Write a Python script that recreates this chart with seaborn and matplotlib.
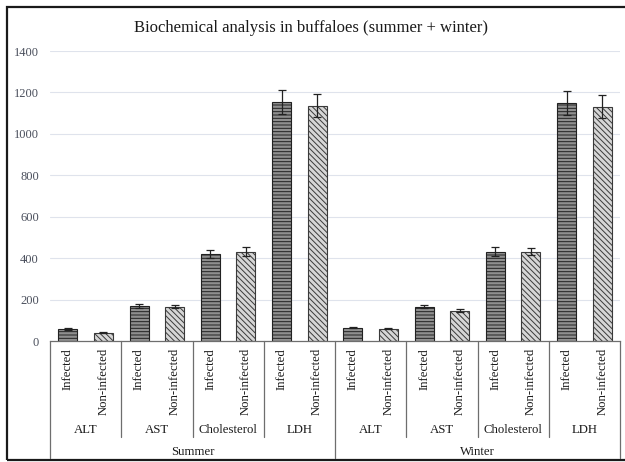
import numpy as np
import pandas as pd
import matplotlib
matplotlib.use("Agg")
import matplotlib.pyplot as plt
from matplotlib.transforms import blended_transform_factory
from matplotlib.patches import Rectangle
import seaborn as sns

# ---- data -------------------------------------------------------------
seasons = ["Summer", "Winter"]
parameters = ["ALT", "AST", "Cholesterol", "LDH"]
status = ["Infected", "Non-infected"]

summer_infected = [58, 168, 420, 1155]
summer_infected_err = [4, 10, 20, 57]
summer_noninfected = [40, 165, 432, 1136]
summer_noninfected_err = [2, 8, 20, 55]

winter_infected = [65, 166, 432, 1150]
winter_infected_err = [3, 8, 20, 58]
winter_noninfected = [60, 146, 432, 1132]
winter_noninfected_err = [3, 8, 18, 55]

# ---- long table, one row per bar ---------------------------------------
rows = []
season_sets = {
    "Summer": (summer_infected, summer_infected_err, summer_noninfected, summer_noninfected_err),
    "Winter": (winter_infected, winter_infected_err, winter_noninfected, winter_noninfected_err),
}
for s in seasons:
    inf, inf_e, non, non_e = season_sets[s]
    for i, p in enumerate(parameters):
        rows.append((s, p, "Infected", inf[i], inf_e[i]))
        rows.append((s, p, "Non-infected", non[i], non_e[i]))
df = pd.DataFrame(rows, columns=["season", "parameter", "status", "value", "err"])
df["slot"] = [f"{r.season}-{r.parameter}-{r.status}" for r in df.itertuples()]
df["pos"] = np.arange(len(df))

sns.set_theme(style="white")
plt.rcParams["font.family"] = ["Liberation Serif", "DejaVu Serif"]
plt.rcParams["hatch.linewidth"] = 0.7

fig = plt.figure(figsize=(6.25, 4.62), dpi=100)
ax = fig.add_axes([0.08, 1 - 341 / 462, 0.912, 290 / 462])

sns.barplot(data=df, x="slot", y="value", hue="status", hue_order=status,
            order=list(df["slot"]), width=0.53, dodge=False, errorbar=None,
            legend=False, ax=ax)

styles = {
    "Infected": dict(fc="#8f8f8f", hatch="-----", ec="#222222"),
    "Non-infected": dict(fc="#d6d6d6", hatch="\\\\\\\\\\\\", ec="#3a3a3a"),
}
for patch in ax.patches:
    idx = int(round(patch.get_x() + patch.get_width() / 2))
    if idx < 0 or idx >= len(df) or patch.get_height() == 0:
        continue
    st = styles[df["status"].iloc[idx]]
    patch.set_facecolor(st["fc"])
    patch.set_edgecolor(st["ec"])
    patch.set_hatch(st["hatch"])
    patch.set_linewidth(0.8)

ax.errorbar(df["pos"], df["value"], yerr=df["err"], fmt="none",
            ecolor="#222222", elinewidth=0.9, capsize=3, capthick=0.9, zorder=5)

# ---- axes styling --------------------------------------------------------
ax.set_xlim(-0.5, len(df) - 0.5)
ax.set_ylim(0, 1400)
ax.set_yticks(np.arange(0, 1401, 200))
ax.set_yticklabels([str(v) for v in range(0, 1401, 200)], fontsize=9, color="#4a4f5c")
ax.tick_params(axis="y", length=0, pad=8)
ax.set_xticks([])
ax.set_xlabel("")
ax.set_ylabel("")
ax.grid(axis="y", color="#dfe3ec", linewidth=0.8)
ax.set_axisbelow(True)
for side in ["left", "right", "top"]:
    ax.spines[side].set_visible(False)
ax.spines["bottom"].set_color("#6e6e6e")
ax.spines["bottom"].set_linewidth(0.9)

# ---- multi-level category axis ----------------------------------------
tr = blended_transform_factory(ax.transData, ax.transAxes)
h_px = 290.0
y_status = -7 / h_px
y_param = -89 / h_px
y_season = -111 / h_px
y_param_line = -96 / h_px
y_season_line = -117 / h_px

for r in df.itertuples():
    ax.text(r.pos, y_status, r.status, rotation=90, ha="center", va="top",
            fontsize=9.2, color="#1a1a1a", transform=tr)

n_par = len(parameters)
for si, s in enumerate(seasons):
    for pi, p in enumerate(parameters):
        center = si * 2 * n_par + pi * 2 + 0.5
        ax.text(center, y_param, p, ha="center", va="center", fontsize=9.2,
                color="#1a1a1a", transform=tr)
    ax.text(si * 2 * n_par + n_par - 0.5, y_season, s, ha="center", va="center",
            fontsize=9.2, color="#1a1a1a", transform=tr)

for k in range(0, len(df) + 1, 2):
    x = k - 0.5
    bottom = y_season_line if k % (2 * n_par) == 0 else y_param_line
    ax.plot([x, x], [0, bottom], color="#6e6e6e", lw=0.9, transform=tr, clip_on=False)

ax.set_title("Biochemical analysis in buffaloes (summer + winter)", fontsize=12,
             color="#1a1a1a", pad=14, x=0.458)

# outer frame
fig.patches.append(Rectangle((7 / 625, 2 / 462), 1.05, 453 / 462, transform=fig.transFigure,
                             fill=False, ec="#1a1a1a", lw=1.6))

fig.savefig("out.png", dpi=100)
